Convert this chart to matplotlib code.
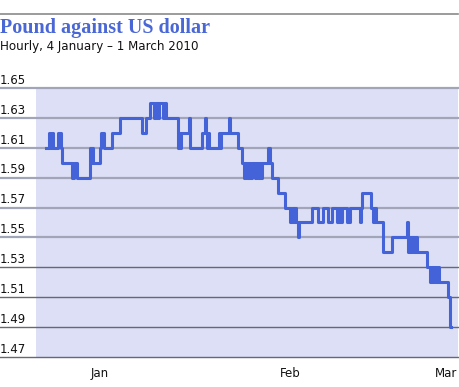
import numpy as np
import matplotlib
matplotlib.use('Agg')
from matplotlib import pyplot as plt
from matplotlib.lines import Line2D

# days after 4 Jan 2010 where the hourly quote changes, and the new quote
days = [0, 0.42, 0.62, 0.83, 0.97, 1.66, 2.01, 2.15, 3.60, 3.88, 4.30,
        6.03, 6.24, 6.38, 6.52, 7.49, 7.62, 8.04, 9.15, 10.26, 13.31, 13.86,
        14.42, 14.97, 15.18, 15.53, 15.73, 16.22, 16.43, 16.70, 18.30, 18.44,
        18.58, 18.71, 19.82, 19.96, 21.62, 22.04, 22.18, 22.32, 22.46, 22.60,
        23.98, 24.12, 24.26, 25.37, 25.51, 26.62, 27.17, 27.45, 27.65, 27.86,
        28.07, 28.28, 28.49, 28.90, 29.11, 29.39, 29.60, 29.80, 29.94, 30.77,
        30.98, 31.33, 32.16, 33.13, 33.82, 34.10, 34.31, 34.52, 34.72, 34.93,
        35.07, 36.87, 37.70, 38.40, 39.09, 39.64, 40.34, 40.62, 40.82, 41.03,
        41.72, 42.14, 43.53, 43.67, 43.80, 45.05, 45.33, 45.54, 45.74, 46.71,
        47.96, 50.04, 50.18, 50.39, 50.60, 50.80, 51.01, 51.22, 51.43, 52.81,
        53.23, 53.44, 53.65, 53.85, 54.06, 54.27, 54.48, 55.73, 56.00, 56.14]
rate = [1.61, 1.62, 1.61, 1.62, 1.61, 1.62, 1.61, 1.60, 1.59, 1.60, 1.59,
        1.61, 1.60, 1.61, 1.60, 1.61, 1.62, 1.61, 1.62, 1.63, 1.62, 1.63,
        1.64, 1.63, 1.64, 1.63, 1.64, 1.63, 1.64, 1.63, 1.61, 1.62,
        1.61, 1.62, 1.63, 1.61, 1.62, 1.63, 1.62, 1.61, 1.62, 1.61,
        1.62, 1.61, 1.62, 1.63, 1.62, 1.61, 1.60, 1.59, 1.60, 1.59,
        1.60, 1.59, 1.60, 1.59, 1.60, 1.59, 1.60, 1.59, 1.60, 1.61,
        1.60, 1.59, 1.58, 1.57, 1.56, 1.57, 1.56, 1.57, 1.56, 1.55,
        1.56, 1.57, 1.56, 1.57, 1.56, 1.57, 1.56, 1.57, 1.56, 1.57,
        1.56, 1.57, 1.56, 1.57, 1.58, 1.57, 1.56, 1.57, 1.56, 1.54,
        1.55, 1.56, 1.54, 1.55, 1.54, 1.55, 1.54, 1.55, 1.54, 1.53,
        1.52, 1.53, 1.52, 1.53, 1.52, 1.53, 1.52, 1.51, 1.49, 1.49]

y_ticks = [1.65, 1.63, 1.61, 1.59, 1.57, 1.55, 1.53, 1.51, 1.49, 1.47]
month_pos = [7.49, 33.82, 55.45]
month_lbl = ['Jan', 'Feb', 'Mar']

blue = '#4463d9'
W, H = 460, 387

fig = plt.figure(figsize=(W / 100, H / 100), dpi=100)
ax = fig.add_axes([36 / W, 30 / H, 422 / W, 269 / H])
ax.set_facecolor('#dcdff5')
for s in ax.spines.values():
    s.set_visible(False)

ax.set_xlim(-1.39, 57.11)
ax.set_ylim(1.47, 1.65)

# gridlines run under the labels too
x0 = -36 / 422
for v in y_ticks:
    if v > 1.54:
        ax.axhline(v, xmin=x0, xmax=1, color='#a2a5b8', lw=1.6, clip_on=False, zorder=1)
    else:
        ax.axhline(v, xmin=x0, xmax=1, color='#666872', lw=1.0, clip_on=False, zorder=1)
    ax.text(x0, v + 0.0028, f'{v:.2f}', transform=ax.get_yaxis_transform(),
            ha='left', va='baseline', fontsize=8.5, color='#111111')

ax.step(days, rate, where='post', color=blue, lw=2.2, zorder=3)

ax.set_yticks([])
ax.set_xticks(month_pos, month_lbl)
ax.tick_params(axis='x', length=0, pad=7, labelsize=8.5, labelcolor='#111111')

fig.add_artist(Line2D([0, 458 / W], [1 - 14 / H] * 2, color='#8a8a8a', lw=1.2))
fig.text(0, 1 - 33 / H, 'Pound against US dollar', family='Liberation Serif',
         weight='bold', fontsize=14.5, color='#4a67d6', va='baseline')
fig.text(0, 1 - 50 / H, 'Hourly, 4 January \u2013 1 March 2010', fontsize=8.6,
         color='#111111', va='baseline')

fig.savefig('out.png', dpi=100)
